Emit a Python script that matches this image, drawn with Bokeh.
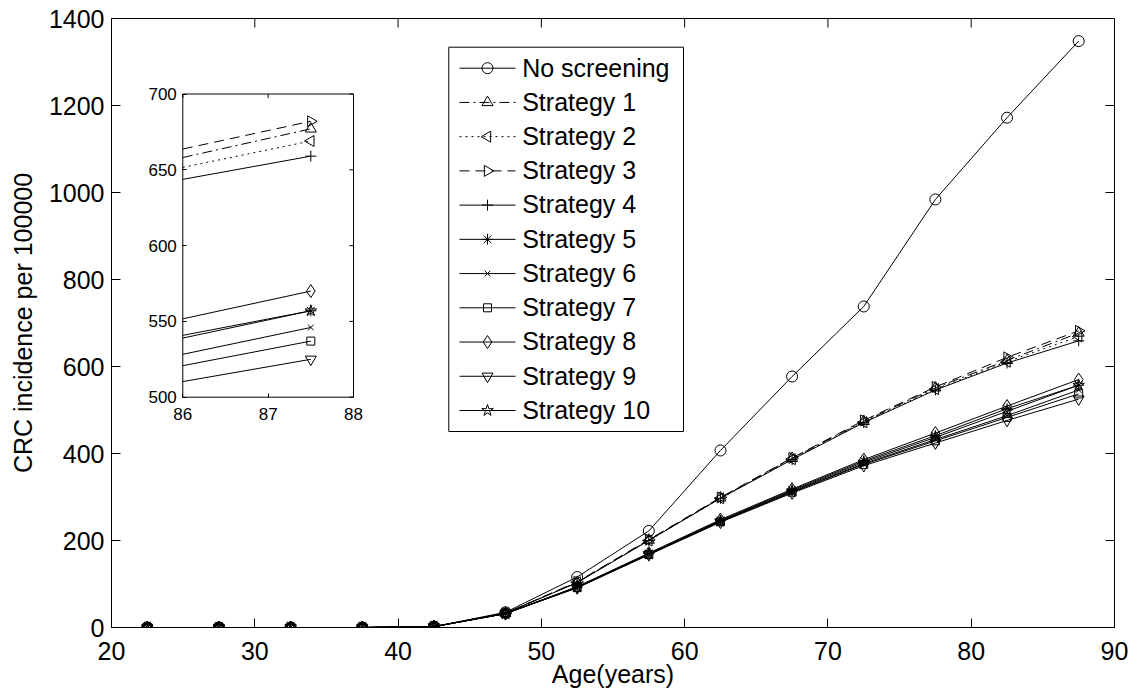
import numpy as np
from bokeh.plotting import figure
from bokeh.models import Range1d, LinearAxis, FixedTicker, ColumnDataSource
from bokeh.core.properties import value
from bokeh.embed import file_html
from bokeh.resources import INLINE

# ---------------- data ----------------
age = [22.5, 27.5, 32.5, 37.5, 42.5, 47.5, 52.5, 57.5, 62.5, 67.5, 72.5, 77.5, 82.5, 87.5]
no_screening = [0, 0, 0, 0, 2, 35, 116, 222, 407, 577, 738, 984, 1172, 1348]
strategy1 = [0, 0, 0, 0, 2, 33, 104, 201, 298, 389, 474, 551, 614, 677]
strategy2 = [0, 0, 0, 0, 2, 33, 104, 200, 297, 387, 472, 548, 611, 669]
strategy3 = [0, 0, 0, 0, 2, 33, 105, 202, 299, 390, 476, 553, 621, 682]
strategy4 = [0, 0, 0, 0, 2, 33, 103, 200, 297, 386, 471, 546, 608, 659]
strategy5 = [0, 0, 0, 0, 2, 32, 93, 170, 246, 316, 383, 441, 503, 557]
strategy6 = [0, 0, 0, 0, 2, 32, 92, 168, 244, 312, 377, 432, 487, 546]
strategy7 = [0, 0, 0, 0, 2, 32, 92, 168, 243, 311, 375, 429, 483, 537]
strategy8 = [0, 0, 0, 0, 2, 32, 94, 171, 248, 318, 386, 447, 509, 570]
strategy9 = [0, 0, 0, 0, 2, 32, 91, 167, 242, 309, 372, 424, 476, 525]
strategy10 = [0, 0, 0, 0, 2, 32, 93, 169, 245, 314, 380, 437, 497, 557]

series_names = ["No screening", "Strategy 1", "Strategy 2", "Strategy 3", "Strategy 4",
                "Strategy 5", "Strategy 6", "Strategy 7", "Strategy 8", "Strategy 9",
                "Strategy 10"]
series_values = [no_screening, strategy1, strategy2, strategy3, strategy4, strategy5,
                 strategy6, strategy7, strategy8, strategy9, strategy10]

x_ticks = [20, 30, 40, 50, 60, 70, 80, 90]
y_ticks = [0, 200, 400, 600, 800, 1000, 1200, 1400]
inset_xlim = [86, 88]
inset_ylim = [500, 700]
inset_xticks = [86, 87, 88]
inset_yticks = [500, 550, 600, 650, 700]

# ---------------- styles ----------------
dashes = ["solid", "10 4 2 4", "2 4", "10 6", "solid", "solid", "solid", "solid",
          "solid", "solid", "solid"]
markers = ["circle", "triangle", "triangle", "triangle", "cross", "asterisk", "x",
           "square", "diamond", "inverted_triangle", "star"]
angles = [0, 0, np.pi / 2, -np.pi / 2, 0, 0, 0, 0, 0, 0, 0]
sizes = [11, 11, 11, 11, 11, 11, 8, 8, 13, 11, 12]

FONT = "Liberation Sans"
FRAME_W, FRAME_H = 1003, 609
# inset box in frame pixels: left, right, bottom, top (from frame bottom-left)
INSET_PX = (71.3, 242.0, 230.3, 533.5)
# legend layout in frame pixels
LEG_BOX = (337.3, 572.0, 196.0, 580.3)   # left, right, bottom, top
LEG_ROW0, LEG_ROW_STEP = 559.3, 34.23
LEG_LINE = (348.0, 404.0)
LEG_TEXT_X, LEG_TEXT_DY = 410.7, 0.7

p = figure(frame_width=FRAME_W, frame_height=FRAME_H,
           x_range=Range1d(20, 90), y_range=Range1d(0, 1400),
           output_backend="svg", toolbar_location=None,
           min_border_left=111, min_border_right=30, min_border_top=18,
           min_border_bottom=65, background_fill_color="white",
           border_fill_color="white", outline_line_color="black")
p.grid.visible = False

# inset ranges mapped onto the full frame
ux = (inset_xlim[1] - inset_xlim[0]) / (INSET_PX[1] - INSET_PX[0])
uy = (inset_ylim[1] - inset_ylim[0]) / (INSET_PX[3] - INSET_PX[2])
ix0 = inset_xlim[0] - INSET_PX[0] * ux
iy0 = inset_ylim[0] - INSET_PX[2] * uy
p.extra_x_ranges = {"ix": Range1d(ix0, ix0 + FRAME_W * ux), "fx": Range1d(0, FRAME_W)}
p.extra_y_ranges = {"iy": Range1d(iy0, iy0 + FRAME_H * uy), "fy": Range1d(0, FRAME_H)}

# main axes
for ax in (p.xaxis[0], p.yaxis[0]):
    ax.major_tick_in = 9
    ax.major_tick_out = 0
    ax.minor_tick_line_color = None
    ax.axis_line_color = "black"
    ax.major_tick_line_color = "black"
    ax.major_label_text_font = FONT
    ax.major_label_text_font_size = "25px"
    ax.major_label_text_color = "black"
    ax.axis_label_text_font = FONT
    ax.axis_label_text_font_size = "25px"
    ax.axis_label_text_font_style = "normal"
    ax.axis_label_text_color = "black"
p.xaxis[0].ticker = FixedTicker(ticks=x_ticks)
p.yaxis[0].ticker = FixedTicker(ticks=y_ticks)
p.xaxis[0].axis_label = "Age(years)"
p.yaxis[0].axis_label = "CRC incidence per 100000"
p.xaxis[0].major_label_standoff = 14
p.xaxis[0].axis_label_standoff = -3
p.yaxis[0].major_label_standoff = 7
p.yaxis[0].axis_label_standoff = 9

# mirrored inward ticks on top and right edges of the main box
p.ray(x=x_ticks, y=[y_ticks[-1]] * len(x_ticks), length=9, length_units="screen",
      angle=-np.pi / 2, line_color="black", line_width=1)
p.ray(x=[x_ticks[-1]] * len(y_ticks), y=y_ticks, length=9, length_units="screen",
      angle=np.pi, line_color="black", line_width=1)

# main series
for name, vals, dash, mk, ang, sz in zip(series_names, series_values, dashes, markers,
                                          angles, sizes):
    src = ColumnDataSource(dict(x=age, y=vals))
    p.line("x", "y", source=src, line_color="black", line_width=1, line_dash=dash)
    p.scatter("x", "y", source=src, marker=mk, size=sz, angle=ang,
              line_color="black", fill_color=None, line_width=1)

# ---------------- inset ----------------
p.quad(left=[inset_xlim[0]], right=[inset_xlim[1]], bottom=[inset_ylim[0]],
       top=[inset_ylim[1]], x_range_name="ix", y_range_name="iy",
       fill_color="white", line_color="black", line_width=1)

x0 = inset_xlim[0]
for vals, dash, mk, ang, sz in zip(series_values[1:], dashes[1:], markers[1:],
                                    angles[1:], sizes[1:]):
    xs = [x0] + [a for a in age if a >= x0]
    ys = [float(np.interp(x0, age, vals))] + [v for a, v in zip(age, vals) if a >= x0]
    p.line(xs, ys, x_range_name="ix", y_range_name="iy", line_color="black",
           line_width=1, line_dash=dash)
    px = [a for a in age if a >= x0]
    py = [v for a, v in zip(age, vals) if a >= x0]
    p.scatter(px, py, x_range_name="ix", y_range_name="iy", marker=mk, size=sz,
              angle=ang, line_color="black", fill_color=None, line_width=1)

def inset_axis(side, loc, ticks, standoff):
    a = LinearAxis(x_range_name="ix", y_range_name="iy", fixed_location=loc,
                   ticker=FixedTicker(ticks=ticks), axis_line_color=None,
                   major_tick_in=4, major_tick_out=0, minor_tick_line_color=None,
                   major_tick_line_color="black",
                   major_label_text_font=FONT, major_label_text_font_size="17px",
                   major_label_text_color="black", major_label_standoff=standoff)
    p.add_layout(a, side)

inset_axis("below", inset_ylim[0], inset_xticks, 11)
inset_axis("left", inset_xlim[0], inset_yticks, 6)
p.ray(x=inset_xticks, y=[inset_ylim[1]] * len(inset_xticks), x_range_name="ix",
      y_range_name="iy", length=4, length_units="screen", angle=-np.pi / 2,
      line_color="black", line_width=1)
p.ray(x=[inset_xlim[1]] * len(inset_yticks), y=inset_yticks, x_range_name="ix",
      y_range_name="iy", length=4, length_units="screen", angle=np.pi,
      line_color="black", line_width=1)

# ---------------- legend (drawn in frame pixel coordinates) ----------------
p.quad(left=[LEG_BOX[0]], right=[LEG_BOX[1]], bottom=[LEG_BOX[2]], top=[LEG_BOX[3]],
       x_range_name="fx", y_range_name="fy", fill_color="white", line_color="black",
       line_width=1)
row_y = [LEG_ROW0 - i * LEG_ROW_STEP for i in range(len(series_names))]
for yc, dash, mk, ang, sz in zip(row_y, dashes, markers, angles, sizes):
    p.line([LEG_LINE[0], LEG_LINE[1]], [yc, yc], x_range_name="fx", y_range_name="fy",
           line_color="black", line_width=1, line_dash=dash)
    p.scatter([(LEG_LINE[0] + LEG_LINE[1]) / 2], [yc], x_range_name="fx",
              y_range_name="fy", marker=mk, size=sz, angle=ang, line_color="black",
              fill_color=None, line_width=1)
leg_src = ColumnDataSource(dict(x=[LEG_TEXT_X] * len(series_names),
                                y=[y + LEG_TEXT_DY for y in row_y],
                                t=series_names))
p.text("x", "y", text="t", source=leg_src, x_range_name="fx", y_range_name="fy",
       text_font=value(FONT), text_font_size="25px", text_color="black",
       text_baseline="alphabetic", text_align="left")

open("out.html", "w").write(file_html(p, INLINE))
